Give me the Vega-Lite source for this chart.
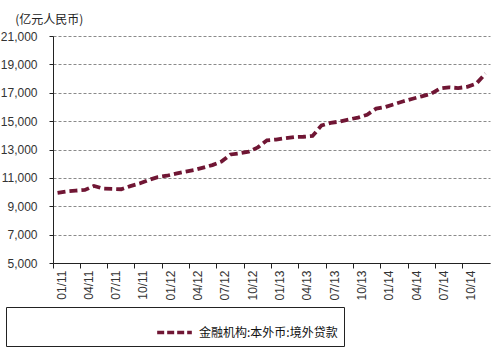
{
  "$schema": "https://vega.github.io/schema/vega-lite/v6.json",
  "width": 437,
  "height": 227,
  "padding": {"left": 0, "top": 14, "right": 7, "bottom": 6},
  "background": "white",
  "title": {
    "text": "(亿元人民币)",
    "anchor": "start",
    "frame": "bounds",
    "dx": 15,
    "offset": 3,
    "font": "Noto Sans CJK SC",
    "fontSize": 12,
    "fontWeight": "normal",
    "color": "#222"
  },
  "data": {
    "values": [
      {"month": "01/11", "value": 9950},
      {"month": "02/11", "value": 10050},
      {"month": "03/11", "value": 10100},
      {"month": "04/11", "value": 10150},
      {"month": "05/11", "value": 10430},
      {"month": "06/11", "value": 10250},
      {"month": "07/11", "value": 10220},
      {"month": "08/11", "value": 10200},
      {"month": "09/11", "value": 10420},
      {"month": "10/11", "value": 10600},
      {"month": "11/11", "value": 10850},
      {"month": "12/11", "value": 11050},
      {"month": "01/12", "value": 11150},
      {"month": "02/12", "value": 11300},
      {"month": "03/12", "value": 11430},
      {"month": "04/12", "value": 11550},
      {"month": "05/12", "value": 11720},
      {"month": "06/12", "value": 11900},
      {"month": "07/12", "value": 12150},
      {"month": "08/12", "value": 12650},
      {"month": "09/12", "value": 12730},
      {"month": "10/12", "value": 12850},
      {"month": "11/12", "value": 13150},
      {"month": "12/12", "value": 13650},
      {"month": "01/13", "value": 13700},
      {"month": "02/13", "value": 13800},
      {"month": "03/13", "value": 13880},
      {"month": "04/13", "value": 13900},
      {"month": "05/13", "value": 13950},
      {"month": "06/13", "value": 14700},
      {"month": "07/13", "value": 14880},
      {"month": "08/13", "value": 14970},
      {"month": "09/13", "value": 15120},
      {"month": "10/13", "value": 15250},
      {"month": "11/13", "value": 15450},
      {"month": "12/13", "value": 15880},
      {"month": "01/14", "value": 16000},
      {"month": "02/14", "value": 16200},
      {"month": "03/14", "value": 16400},
      {"month": "04/14", "value": 16580},
      {"month": "05/14", "value": 16750},
      {"month": "06/14", "value": 16920},
      {"month": "07/14", "value": 17300},
      {"month": "08/14", "value": 17380},
      {"month": "09/14", "value": 17330},
      {"month": "10/14", "value": 17420},
      {"month": "11/14", "value": 17650},
      {"month": "12/14", "value": 18350}
    ]
  },
  "mark": {"type": "line", "strokeWidth": 3.8, "strokeDash": [8, 4]},
  "encoding": {
    "x": {
      "field": "month",
      "type": "ordinal",
      "sort": null,
      "scale": {"type": "band", "paddingInner": 0, "paddingOuter": 0},
      "axis": {
        "title": null,
        "values": ["01/11","04/11","07/11","10/11","01/12","04/12","07/12","10/12","01/13","04/13","07/13","10/13","01/14","04/14","07/14","10/14"],
        "bandPosition": 0,
        "labelOffset": 4,
        "labelAngle": -90,
        "labelFont": "Liberation Sans",
        "labelFontSize": 12,
        "labelColor": "#333",
        "labelPadding": 2,
        "tickSize": 5,
        "tickColor": "#222",
        "domainColor": "#222",
        "grid": false
      }
    },
    "y": {
      "field": "value",
      "type": "quantitative",
      "scale": {"domain": [5000, 21000], "nice": false, "zero": false},
      "axis": {
        "title": null,
        "values": [5000, 7000, 9000, 11000, 13000, 15000, 17000, 19000, 21000],
        "format": ",.0f",
        "labelFont": "Liberation Sans",
        "labelFontSize": 12,
        "labelColor": "#333",
        "labelPadding": 12,
        "tickSize": 4,
        "tickColor": "#222",
        "domainColor": "#222",
        "grid": true,
        "gridColor": "#8a8a8a",
        "gridDash": [3, 2],
        "gridWidth": 1
      }
    },
    "color": {
      "datum": "金融机构:本外币:境外贷款",
      "scale": {"range": ["#701634"]},
      "legend": {
        "title": null,
        "orient": "none",
        "legendX": -47,
        "legendY": 271,
        "padding": 6,
        "strokeColor": "#222",
        "symbolType": "stroke",
        "symbolSize": 1200,
        "symbolStrokeWidth": 3.5,
        "symbolDash": [7, 3],
        "symbolOffset": 143,
        "labelOffset": 5,
        "labelLimit": 600,
        "labelFont": "Noto Sans CJK SC",
        "labelFontSize": 12,
        "labelColor": "#111",
        "labelExpr": "pad(datum.label, 61)"
      }
    }
  },
  "config": {"view": {"stroke": null}}
}
